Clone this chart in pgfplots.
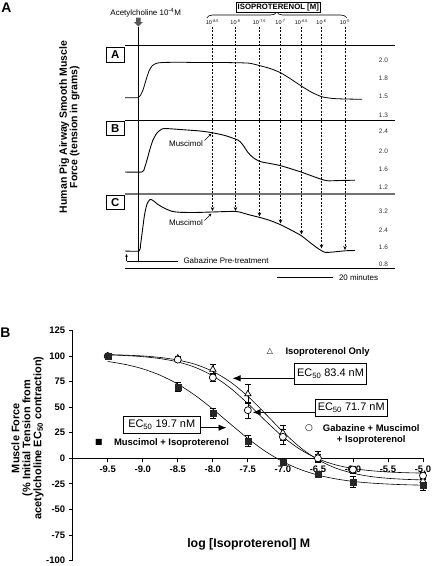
\documentclass[border=0pt]{standalone}
\usepackage{pgfplots}
\pgfplotsset{compat=1.18}
\usepackage{fontspec}
\setmainfont{Liberation Sans}
\newfontfamily\dejavu{DejaVu Sans}
\usetikzlibrary{arrows.meta,decorations.pathreplacing}
\newcommand{\fs}[1]{\fontsize{#1}{#1}\selectfont}
\begin{document}
\begin{tikzpicture}
\path[use as bounding box] (0bp,0bp) rectangle (432bp,-566bp);
% ---------------- Panel A traces (pixel canvas) ----------------
\begin{axis}[at={(0bp,-566bp)},anchor=south west,scale only axis,width=432bp,height=566bp,
  xmin=0,xmax=432,ymin=-566,ymax=0,hide axis,clip=false]
\addplot[black,line width=0.8bp,smooth,tension=0.4] coordinates {
(125,-97.7)(138,-97.7)(140,-96)(143,-90)(146,-80)(149,-71)(152,-66)(156,-63.5)(162,-62.5)(180,-62.3)(200,-62.5)(220,-62.5)(240,-62.8)(250,-63.3)(260,-65.7)(270,-68.5)(280,-72.5)(290,-78.5)(302,-86.5)(312,-92.5)(322,-96.8)(333,-98.5)(345,-99)(362,-99.3)};
\addplot[black,line width=0.9bp,smooth,tension=0.4] coordinates {
(125,-172)(142,-172)(144.5,-168)(147,-160)(150,-149)(153,-140)(157,-133)(161,-129.5)(165,-128.5)(180,-129.5)(200,-131)(212,-132.7)(225,-135.5)(236,-139.3)(240,-141.5)(244,-146.5)(248,-152.5)(253,-157.5)(260,-161.5)(270,-163.5)(280,-165.5)(290,-168.5)(301,-172)(312,-176)(322,-179.5)(328,-180.8)(340,-180.5)(355,-180.2)};
\addplot[black,line width=0.9bp,smooth,tension=0.4] coordinates {
(125,-251)(139,-251)(140.5,-245)(142.5,-230)(144.5,-215)(147,-204)(150,-199.5)(153,-200.5)(158,-204.5)(165,-208.5)(172,-211.3)(180,-212.3)(195,-212.5)(212,-212)(236,-211.5)(248,-214.5)(260,-217.5)(270,-220.5)(280,-224.5)(290,-229.5)(301,-235.5)(310,-242.5)(318,-248.5)(325,-252.3)(333,-252)(345,-250.8)(355,-250.5)};
\end{axis}
% ---------------- Panel B axis ----------------
\begin{axis}[at={(72.7bp,-560.5bp)},anchor=south west,scale only axis,width=350.3bp,height=230bp,
  xmin=-10,xmax=-5,ymin=-100,ymax=125,
  axis x line*=bottom,axis x line shift=-102.2bp,axis y line*=left,
  axis line style={-,line width=0.8bp},
  tick align=outside,major tick length=4bp,tick style={line width=0.8bp,black},
  xtick={-9.5,-9,-8.5,-8,-7.5,-7,-6.5,-6,-5.5,-5},
  xticklabels={-9.5,-9.0,-8.5,-8.0,-7.5,-7.0,-6.5,-6.0,-5.5,-5.0},
  ytick={-100,-75,-50,-25,0,25,50,75,100,125},
  yticklabels={-100,-75,-50,-25,0,25,50,75,100,125},
  ticklabel style={font=\bfseries\fs{9.5}},
  clip=false]
\addplot[black,line width=0.6bp,smooth] coordinates {(-9.5,101.4)(-9.25,100.9)(-9,100.1)(-8.75,98.6)(-8.5,96.1)(-8.25,91.9)(-8,85.0)(-7.75,74.7)(-7.5,60.6)(-7.25,43.6)(-7,26.0)(-6.75,10.5)(-6.5,-1.4)(-6.25,-9.5)(-6,-14.6)(-5.75,-17.8)(-5.5,-19.6)(-5.25,-20.6)(-5,-21.2)};
\addplot[black,line width=0.6bp,smooth] coordinates {(-9.5,101.2)(-9.25,100.5)(-9,99.4)(-8.75,97.5)(-8.5,94.3)(-8.25,88.9)(-8,80.6)(-7.75,68.7)(-7.5,53.5)(-7.25,36.8)(-7,21.1)(-6.75,8.5)(-6.5,-0.5)(-6.25,-6.4)(-6,-10.0)(-5.75,-12.1)(-5.5,-13.4)(-5.25,-14.1)(-5,-14.5)};
\addplot[black,line width=0.6bp,smooth] coordinates {(-9.5,94.7)(-9.25,91.8)(-9,87.5)(-8.75,81.2)(-8.5,72.6)(-8.25,61.4)(-8,48.1)(-7.75,33.6)(-7.5,19.4)(-7.25,6.8)(-7,-3.3)(-6.75,-11.0)(-6.5,-16.4)(-6.25,-20.1)(-6,-22.6)(-5.75,-24.2)(-5.5,-25.2)(-5.25,-25.9)(-5,-26.3)};
\pgfplotsset{errb/.style={error bars/.cd,y dir=both,y explicit,error bar style={line width=0.6bp,black},error mark options={rotate=90,mark size=3bp,line width=0.6bp,black}}}
\addplot[only marks,mark=triangle*,mark size=3.6bp,mark options={fill=white,draw=black,line width=0.7bp},errb] coordinates {
(-9.5,100) +- (0,0.5) (-8.5,98) +- (0,1.5) (-8,87) +- (0,5) (-7.5,63) +- (0,9) (-7,25) +- (0,7) (-6.5,2) +- (0,5) (-6,-12) +- (0,3) (-5,-22) +- (0,3)};
\addplot[only marks,mark=*,mark size=3.5bp,mark options={fill=white,draw=black,line width=0.7bp},errb] coordinates {
(-9.5,100) +- (0,0.5) (-8.5,96.5) +- (0,1.5) (-8,79) +- (0,4) (-7.5,47) +- (0,8) (-7,21) +- (0,7) (-6.5,0) +- (0,4) (-6,-11) +- (0,3) (-5,-17) +- (0,3)};
\addplot[only marks,mark=square*,mark size=3bp,mark options={fill=black!85,draw=black!85},errb] coordinates {
(-9.5,100) +- (0,0.5) (-8.5,70) +- (0,4) (-8,44) +- (0,5) (-7.5,17) +- (0,5) (-7,-4) +- (0,3) (-6.5,-16) +- (0,3) (-6,-23) +- (0,5) (-5,-26) +- (0,5)};
\end{axis}
% ---------------- annotations ----------------
\begin{scope}[x=1bp,y=1bp]
\node[font=\bfseries\fs{14}] at (6.5,-8) {A};
\node[font=\fs{8}] at (145.7,-12.7) {Acetylcholine 10\textsuperscript{-4}M};
\fill[black!65] (136,-17.5) rectangle (140.6,-22) (133.8,-22) -- (142.8,-22) -- (138.3,-26.5) -- cycle;
\draw[decorate,decoration={brace,amplitude=6bp},line width=0.6bp] (206.7,-18) -- (346.7,-18);
\node[draw,fill=white,line width=0.7bp,inner sep=1.6bp,font=\bfseries\fs{7.8}] at (278.3,-7.6) {ISOPROTERENOL [M]};
\foreach \xx/\lab in {212.5/-8.5,235.5/-8,259.5/-7.5,280.5/-7,301.5/-6.5,321.5/-6,345/-5}{
  \node[font=\fs{5.5}] at (\xx,-22.5) {10\textsuperscript{\lab}};
}
\draw[line width=0.9bp] (125,-45.7) -- (395,-45.7);
\draw[line width=0.9bp] (125,-120) -- (395,-120);
\draw[line width=1.6bp,black!55] (125,-194) -- (395,-194);
\draw[line width=0.9bp] (125,-268) -- (395,-268);
\draw[line width=0.8bp] (138.5,-26.5) -- (138.5,-262);
\foreach \lab/\yy in {A/-55,B/-128.3,C/-202.5}{
  \node[draw,line width=1bp,fill=white,minimum width=18bp,minimum height=14bp,inner sep=0pt,font=\bfseries\fs{11.5}] at (115.3,\yy) {\lab};
}
\foreach \lab/\yy in {2.0/-60.7,1.8/-78.3,1.5/-96.7,1.3/-115,2.4/-131.7,2.0/-151,1.6/-169.7,1.2/-187.5,3.2/-211,2.4/-230,1.6/-247.7,0.8/-264.3}{
  \node[font=\fs{6.5},text=black!80] at (383.5,\yy) {\lab};
}
\node[font=\bfseries\fs{10.5},rotate=90,align=center] at (69.5,-127) {\baselineskip=15bp Human Pig Airway Smooth Muscle\\Force (tension in grams)};
\foreach \xx/\ye in {212.5/-211,235.5/-211,259.5/-216.5,280.5/-223.5,301.5/-234.5,321.5/-248.5,345/-250}{
  \draw[line width=0.7bp,dash pattern=on 2bp off 1.5bp,-{Stealth[length=4bp,width=3.5bp]}] (\xx,-26.5) -- (\xx,\ye);
}
\node[font=\fs{8}] at (186,-143.3) {Muscimol};
\draw[line width=0.6bp,-{Stealth[length=3bp,width=2.5bp]}] (204.5,-140.5) -- (211.5,-133.5);
\node[font=\fs{8}] at (186,-223) {Muscimol};
\draw[line width=0.6bp,-{Stealth[length=3bp,width=2.5bp]}] (204.5,-220.5) -- (211.5,-213.5);
\draw[line width=0.8bp,-{Stealth[length=3bp,width=2.6bp]}] (126.5,-261) -- (126.5,-254);
\draw[line width=0.8bp] (126.5,-261) -- (178,-261);
\node[font=\fs{8},anchor=west] at (180,-260.7) {Gabazine Pre-treatment};
\draw[line width=0.8bp] (276.7,-277.7) -- (333.3,-277.7);
\node[font=\fs{8},anchor=west] at (335.5,-277.7) {20 minutes};
% Panel B texts
\node[font=\bfseries\fs{14}] at (5.5,-333) {B};
\node[font=\bfseries\fs{11},rotate=90,align=center] at (27.5,-438) {\baselineskip=14bp Muscle Force\\(\% Initial Tension from\\acetylcholine EC\textsubscript{50} contraction)};
\node[font=\bfseries\fs{12.4}] at (248.7,-544) {log [Isoproterenol] M};
\node[font=\dejavu\fs{8}] at (270,-351.7) {△};
\node[anchor=west,font=\bfseries\fs{9.5}] at (282,-351.7) {Isoproterenol Only};
\node[font=\dejavu\fs{9}] at (309,-428.3) {○};
\node[font=\bfseries\fs{9.5}] at (371.2,-428.3) {Gabazine + Muscimol};
\node[font=\bfseries\fs{9.5}] at (371.2,-440.5) {+ Isoproterenol};
\node[font=\dejavu\fs{8}] at (99,-442.7) {■};
\node[anchor=west,font=\bfseries\fs{9.5}] at (110.5,-442.7) {Muscimol + Isoproterenol};
\draw[line width=0.8bp,fill=white] (294.3,-363.3) rectangle (366.7,-384);
\node[font=\fs{11}] at (330.5,-373.7) {EC\textsubscript{50} 83.4 nM};
\draw[line width=0.9bp,-{Latex[length=8bp,width=6.5bp]}] (294.3,-378.3) -- (232.5,-378.3);
\draw[line width=0.8bp,fill=white] (315,-399) rectangle (387.3,-416.7);
\node[font=\fs{11}] at (351.2,-407.9) {EC\textsubscript{50} 71.7 nM};
\draw[line width=0.9bp,-{Latex[length=8bp,width=6.5bp]}] (315,-412.3) -- (252.5,-412.3);
\draw[line width=0.8bp,fill=white] (123.3,-416) rectangle (200,-433);
\node[font=\fs{11}] at (161.7,-424.5) {EC\textsubscript{50} 19.7 nM};
\draw[line width=0.9bp,-{Latex[length=8bp,width=6.5bp]}] (200,-427.7) -- (226.5,-427.7);
\end{scope}
\end{tikzpicture}
\end{document}
